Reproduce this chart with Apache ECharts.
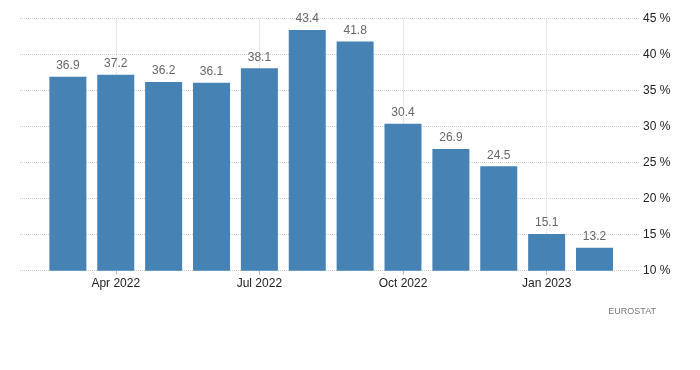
<!DOCTYPE html>
<html><head><meta charset="utf-8">
<script src="https://cdn.jsdelivr.net/npm/echarts@6/dist/echarts.min.js"></script>
<style>html,body{margin:0;padding:0;background:#fff}#c{width:700px;height:370px}</style>
</head><body><div id="c"></div>
<script>
var months = ["Mar 2022","Apr 2022","May 2022","Jun 2022","Jul 2022","Aug 2022","Sep 2022","Oct 2022","Nov 2022","Dec 2022","Jan 2023","Feb 2023"];
var values = [36.9, 37.2, 36.2, 36.1, 38.1, 43.4, 41.8, 30.4, 26.9, 24.5, 15.1, 13.2];
var tickIndices = [1, 4, 7, 10];
var yTicks = [10, 15, 20, 25, 30, 35, 40, 45];

var chart = echarts.init(document.getElementById('c'), null, {renderer: 'canvas'});
var barData = values.map(function (v, i) { return [i, v]; });
chart.setOption({
  animation: false,
  grid: {left: 20, right: 60, top: 18.5, bottom: 99.3, containLabel: false},
  xAxis: {
    type: 'value', min: -1, max: 11.95,
    axisLine: {show: false},
    axisTick: {show: true, customValues: tickIndices, length: 4, lineStyle: {color: '#bbb'}},
    axisLabel: {customValues: tickIndices, formatter: function (v) { return months[v] || ''; },
      color: '#222', fontSize: 12, fontFamily: 'Liberation Sans, Arial, sans-serif', margin: 7},
    splitLine: {show: true, lineStyle: {color: '#d4d4d4', type: [1, 1], width: 1}}
  },
  yAxis: {
    type: 'value', position: 'right', min: 10, max: 45, interval: 5,
    axisLine: {show: false}, axisTick: {show: false},
    axisLabel: {formatter: '{value} %', color: '#222', fontSize: 12,
      fontFamily: 'Liberation Sans, Arial, sans-serif', margin: 3},
    splitLine: {show: true, lineStyle: {color: '#cfcfcf', type: [1, 1], width: 1}}
  },
  series: [{
    type: 'bar', data: barData, barWidth: 37,
    itemStyle: {color: '#4682b4'},
    label: {show: true, position: 'top', distance: 5, color: '#666', fontSize: 12,
      fontFamily: 'Liberation Sans, Arial, sans-serif',
      formatter: function (p) { return p.value[1].toFixed(1); }}
  }],
  graphic: [{type: 'text', right: 44, top: 307,
    style: {text: 'EUROSTAT', fill: '#777', fontSize: 9, fontFamily: 'Liberation Sans, Arial, sans-serif'}}]
});
</script></body></html>
